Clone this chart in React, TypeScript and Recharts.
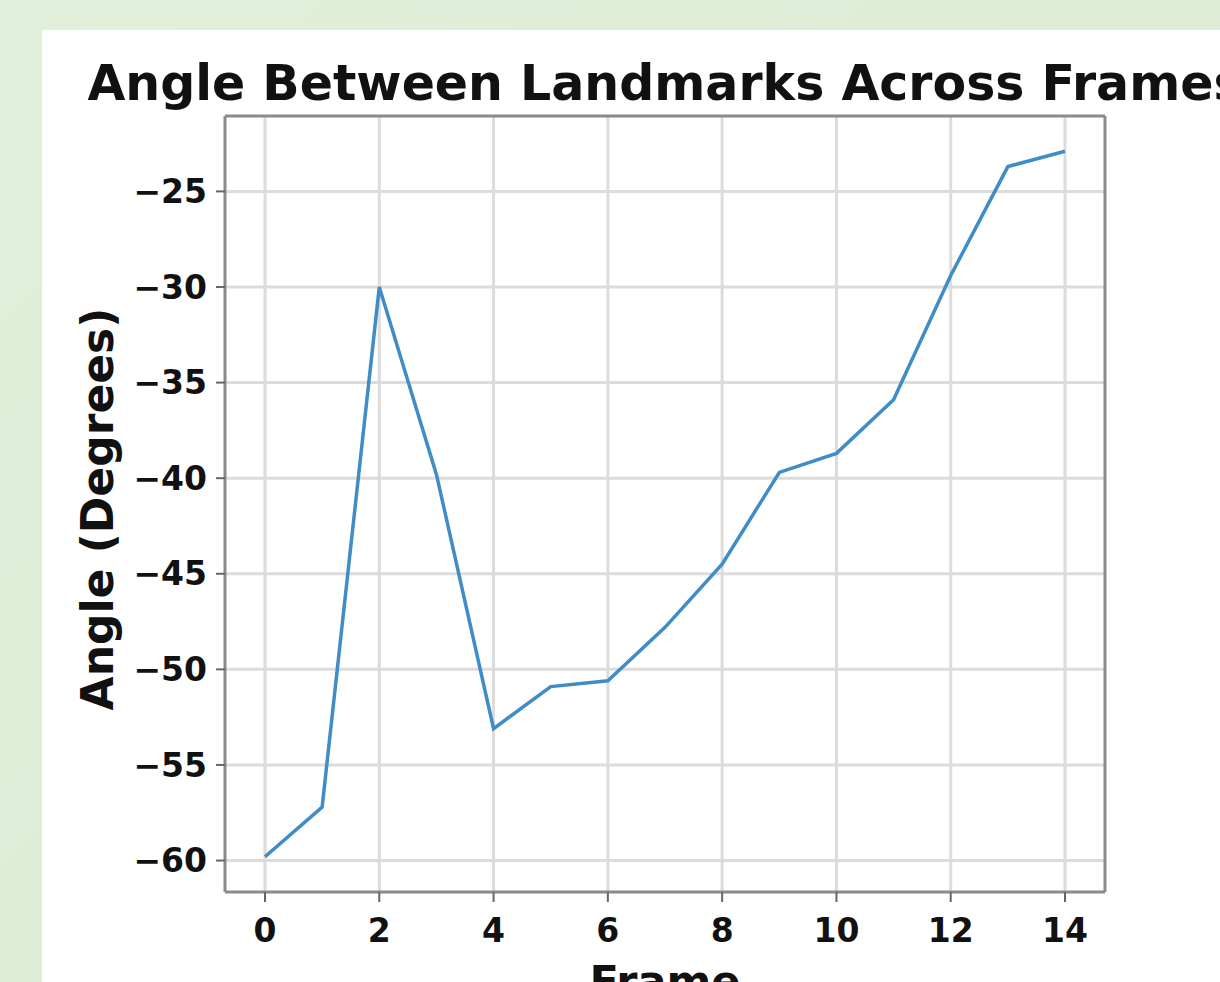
import React from 'react';
import { LineChart, Line, XAxis, YAxis, CartesianGrid, Label, ReferenceLine } from 'recharts';

const frames = [0, 1, 2, 3, 4, 5, 6, 7, 8, 9, 10, 11, 12, 13, 14];
const angles = [-59.8, -57.2, -30.0, -39.8, -53.1, -50.9, -50.6, -47.8, -44.5, -39.7, -38.7, -35.9, -29.4, -23.7, -22.9];
const xTicks = [0, 2, 4, 6, 8, 10, 12, 14];
const yTicks = [-60, -55, -50, -45, -40, -35, -30, -25];
const titleText = 'Angle Between Landmarks Across Frames';
const xLabel = 'Frame';
const yLabel = 'Angle (Degrees)';

const X_DOMAIN: [number, number] = [-0.7, 14.7];
const Y_DOMAIN: [number, number] = [-61.645, -21.055];

const data = frames.map((f, i) => ({ frame: f, angle: angles[i] }));

const FONT = '"DejaVu Sans", sans-serif';
const PANEL_W = 1178;
const PANEL_H = 952;
const FRAME_COLOR = '#8a8a8a';
const fmt = (v: number) => String(v).replace('-', '\u2212');

export default function App() {
  return (
    <div
      style={{
        position: 'absolute',
        left: 0,
        top: 0,
        width: 1220,
        height: 982,
        overflow: 'hidden',
        background: 'linear-gradient(135deg, #e2efda 0%, #dbe9d2 100%)',
      }}
    >
      <div
        style={{
          position: 'absolute',
          left: 42,
          top: 30,
          width: PANEL_W,
          height: PANEL_H,
          background: '#ffffff',
          overflow: 'hidden',
        }}
      >
        <svg
          width={PANEL_W}
          height={PANEL_H}
          style={{ position: 'absolute', left: 0, top: 0, pointerEvents: 'none' }}
        >
          <text
            x={623}
            y={70}
            textAnchor="middle"
            fontFamily={FONT}
            fontWeight="bold"
            fontSize={49}
            fill="#111"
          >
            {titleText}
          </text>
        </svg>
        <div style={{ position: 'absolute', left: 0, top: 0 }}>
          <LineChart
            width={PANEL_W}
            height={PANEL_H}
            data={data}
            margin={{ top: 86, right: 115, bottom: 30, left: 63 }}
          >
            <CartesianGrid
              stroke="#dcdcdc"
              strokeWidth={3}
              horizontalValues={yTicks}
              verticalValues={xTicks}
            />
            <XAxis
              dataKey="frame"
              type="number"
              domain={X_DOMAIN}
              ticks={xTicks}
              allowDataOverflow
              height={60}
              tickFormatter={fmt}
              tickSize={10}
              tickMargin={17}
              axisLine={{ stroke: FRAME_COLOR, strokeWidth: 3 }}
              tickLine={{ stroke: '#666', strokeWidth: 2 }}
              tick={{ fill: '#111', fontSize: 33, fontWeight: 'bold', fontFamily: FONT }}
            >
              <Label
                content={() => (
                  <text
                    x={623}
                    y={966}
                    textAnchor="middle"
                    fontFamily={FONT}
                    fontWeight="bold"
                    fontSize={43}
                    fill="#111"
                  >
                    {xLabel}
                  </text>
                )}
              />
            </XAxis>
            <YAxis
              type="number"
              domain={Y_DOMAIN}
              ticks={yTicks}
              allowDataOverflow
              width={120}
              tickFormatter={fmt}
              tickSize={9}
              tickMargin={9}
              axisLine={{ stroke: FRAME_COLOR, strokeWidth: 3 }}
              tickLine={{ stroke: '#666', strokeWidth: 2 }}
              tick={{ fill: '#111', fontSize: 33, fontWeight: 'bold', fontFamily: FONT }}
            >
              <Label
                content={() => (
                  <text
                    x={55}
                    y={479}
                    dy="0.36em"
                    transform="rotate(-90, 55, 479)"
                    textAnchor="middle"
                    fontFamily={FONT}
                    fontWeight="bold"
                    fontSize={44}
                    fill="#111"
                  >
                    {yLabel}
                  </text>
                )}
              />
            </YAxis>
            <ReferenceLine y={Y_DOMAIN[1]} stroke={FRAME_COLOR} strokeWidth={3} ifOverflow="visible" />
            <ReferenceLine x={X_DOMAIN[1]} stroke={FRAME_COLOR} strokeWidth={3} ifOverflow="visible" />
            <Line
              dataKey="angle"
              type="linear"
              stroke="#3f8cc6"
              strokeWidth={3.5}
              dot={false}
              isAnimationActive={false}
            />
          </LineChart>
        </div>
      </div>
    </div>
  );
}
